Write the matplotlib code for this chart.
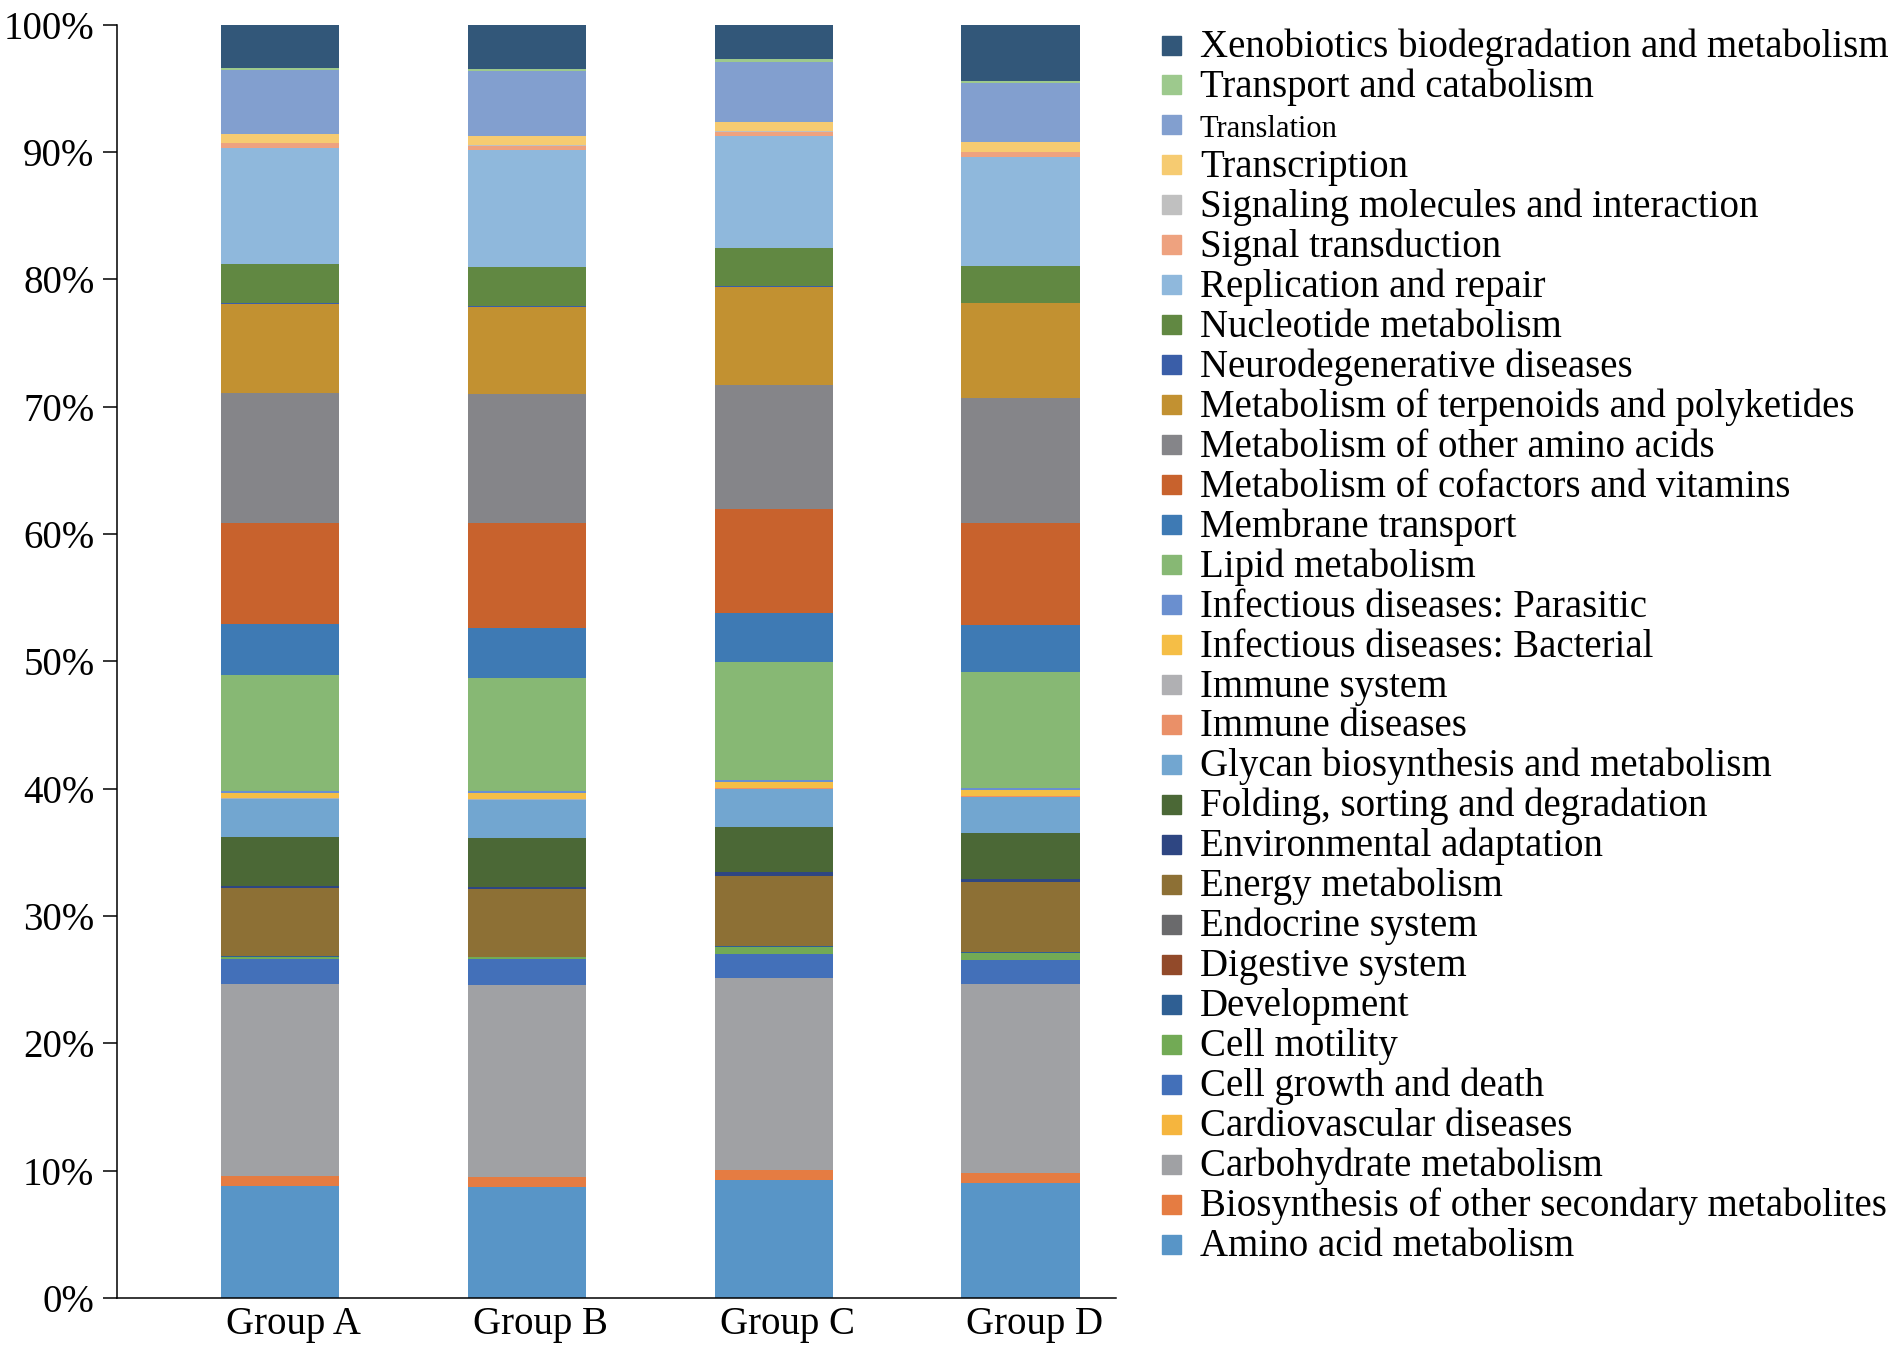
import numpy as np
import matplotlib
matplotlib.use("Agg")
import matplotlib.pyplot as plt
from matplotlib.patches import Rectangle
from matplotlib.transforms import ScaledTranslation

plt.rcParams['font.family'] = ['Liberation Serif', 'DejaVu Serif']

groups = ["Group A", "Group B", "Group C", "Group D"]

# categories from bottom of the stack to the top
categories = [
    "Amino acid metabolism",
    "Biosynthesis of other secondary metabolites",
    "Carbohydrate metabolism",
    "Cardiovascular diseases",
    "Cell growth and death",
    "Cell motility",
    "Development",
    "Digestive system",
    "Endocrine system",
    "Energy metabolism",
    "Environmental adaptation",
    "Folding, sorting and degradation",
    "Glycan biosynthesis and metabolism",
    "Immune diseases",
    "Immune system",
    "Infectious diseases: Bacterial",
    "Infectious diseases: Parasitic",
    "Lipid metabolism",
    "Membrane transport",
    "Metabolism of cofactors and vitamins",
    "Metabolism of other amino acids",
    "Metabolism of terpenoids and polyketides",
    "Neurodegenerative diseases",
    "Nucleotide metabolism",
    "Replication and repair",
    "Signal transduction",
    "Signaling molecules and interaction",
    "Transcription",
    "Translation",
    "Transport and catabolism",
    "Xenobiotics biodegradation and metabolism",
]

colors = [
    "#5895c7", "#e57c42", "#a0a1a4", "#f5b53e", "#4370b9", "#72aa55",
    "#2f5f93", "#924a2a", "#6a6a6c", "#8d7035", "#2e4682", "#4b6836",
    "#72a6d0", "#ea9068", "#b0b0b3", "#f5be46", "#6a8fcf", "#87b874",
    "#3e7ab4", "#c8622d", "#858589", "#c29131", "#3a5ea8", "#618842",
    "#8fb8dc", "#eea27f", "#c0c0c0", "#f6cb71", "#829fcf", "#9dc98d",
    "#325779",
]

# relative abundance (%) per group, A, B, C, D
amino = [8.82, 8.74, 9.27, 9.03]
biosynth = [0.73, 0.76, 0.76, 0.76]
carbo = [15.08, 15.08, 15.10, 14.84]
cardio = [0.02, 0.02, 0.02, 0.02]
cell_growth = [1.97, 2.00, 1.89, 1.87]
cell_motility = [0.19, 0.15, 0.55, 0.60]
development = [0.03, 0.03, 0.03, 0.03]
digestive = [0.01, 0.01, 0.01, 0.01]
endocrine = [0.02, 0.02, 0.02, 0.02]
energy = [5.30, 5.28, 5.52, 5.49]
environmental = [0.18, 0.20, 0.26, 0.26]
folding = [3.83, 3.84, 3.59, 3.56]
glycan = [2.98, 2.98, 2.98, 2.88]
immune_dis = [0.03, 0.03, 0.03, 0.03]
immune_sys = [0.05, 0.05, 0.05, 0.05]
bacterial = [0.41, 0.47, 0.42, 0.45]
parasitic = [0.15, 0.16, 0.18, 0.15]
lipid = [9.16, 8.87, 9.29, 9.09]
membrane = [3.95, 3.93, 3.85, 3.71]
cofactors = [7.99, 8.24, 8.14, 8.01]
other_amino = [10.15, 10.11, 9.74, 9.82]
terpenoids = [7.03, 6.88, 7.72, 7.44]
neuro = [0.03, 0.03, 0.03, 0.03]
nucleotide = [3.07, 3.09, 2.98, 2.90]
replication = [9.14, 9.16, 8.80, 8.58]
signal_trans = [0.36, 0.37, 0.37, 0.38]
signaling_mol = [0.02, 0.02, 0.02, 0.02]
transcription = [0.75, 0.76, 0.74, 0.73]
translation = [5.00, 5.06, 4.74, 4.66]
transport = [0.13, 0.15, 0.18, 0.13]
xeno = [3.42, 3.51, 2.72, 4.45]

values = [amino, biosynth, carbo, cardio, cell_growth, cell_motility,
          development, digestive, endocrine, energy, environmental, folding,
          glycan, immune_dis, immune_sys, bacterial, parasitic, lipid,
          membrane, cofactors, other_amino, terpenoids, neuro, nucleotide,
          replication, signal_trans, signaling_mol, transcription,
          translation, transport, xeno]

W, H = 1902, 1349
fig = plt.figure(figsize=(W / 100, H / 100), dpi=100)
ax = fig.add_axes([116.7 / W, 1 - 1298 / H, (1116 - 116.7) / W, (1298 - 24.7) / H])

x = np.arange(len(groups))
bottom = np.zeros(len(groups))
for vals, col in zip(values, colors):
    ax.bar(x, vals, width=0.48, bottom=bottom, color=col, linewidth=0)
    bottom += np.array(vals)

ax.set_xlim(-0.661, 3.386)
ax.set_ylim(0, 100)
ax.set_yticks(np.arange(0, 101, 10))
ax.set_yticklabels([f"{v}%" for v in range(0, 101, 10)], fontsize=28)
ax.set_xticks(x)
ax.set_xticklabels(groups, fontsize=28)
ax.tick_params(axis='x', length=0, pad=6)
ax.tick_params(axis='y', length=10, width=1.1, pad=6, direction='out')
# group labels sit a little right of the bar centres
shift = ScaledTranslation(0.14, 0, fig.dpi_scale_trans)
for lab in ax.get_xticklabels():
    lab.set_transform(lab.get_transform() + shift)
for s in ['top', 'right']:
    ax.spines[s].set_visible(False)
for s in ['left', 'bottom']:
    ax.spines[s].set_linewidth(1.1)

# legend, top entry = last category
y0, step = 45, 39.97
for i, (name, col) in enumerate(zip(categories[::-1], colors[::-1])):
    yc = y0 + i * step
    fig.patches.append(Rectangle((1162 / W, 1 - (yc + 9.5) / H), 19 / W, 19 / H,
                                 transform=fig.transFigure, color=col, figure=fig))
    fs = 22 if name == "Translation" else 28
    fig.text(1200 / W, 1 - (yc + 12) / H, name, fontsize=fs, va='baseline', ha='left')

fig.savefig("out.png", dpi=100)
